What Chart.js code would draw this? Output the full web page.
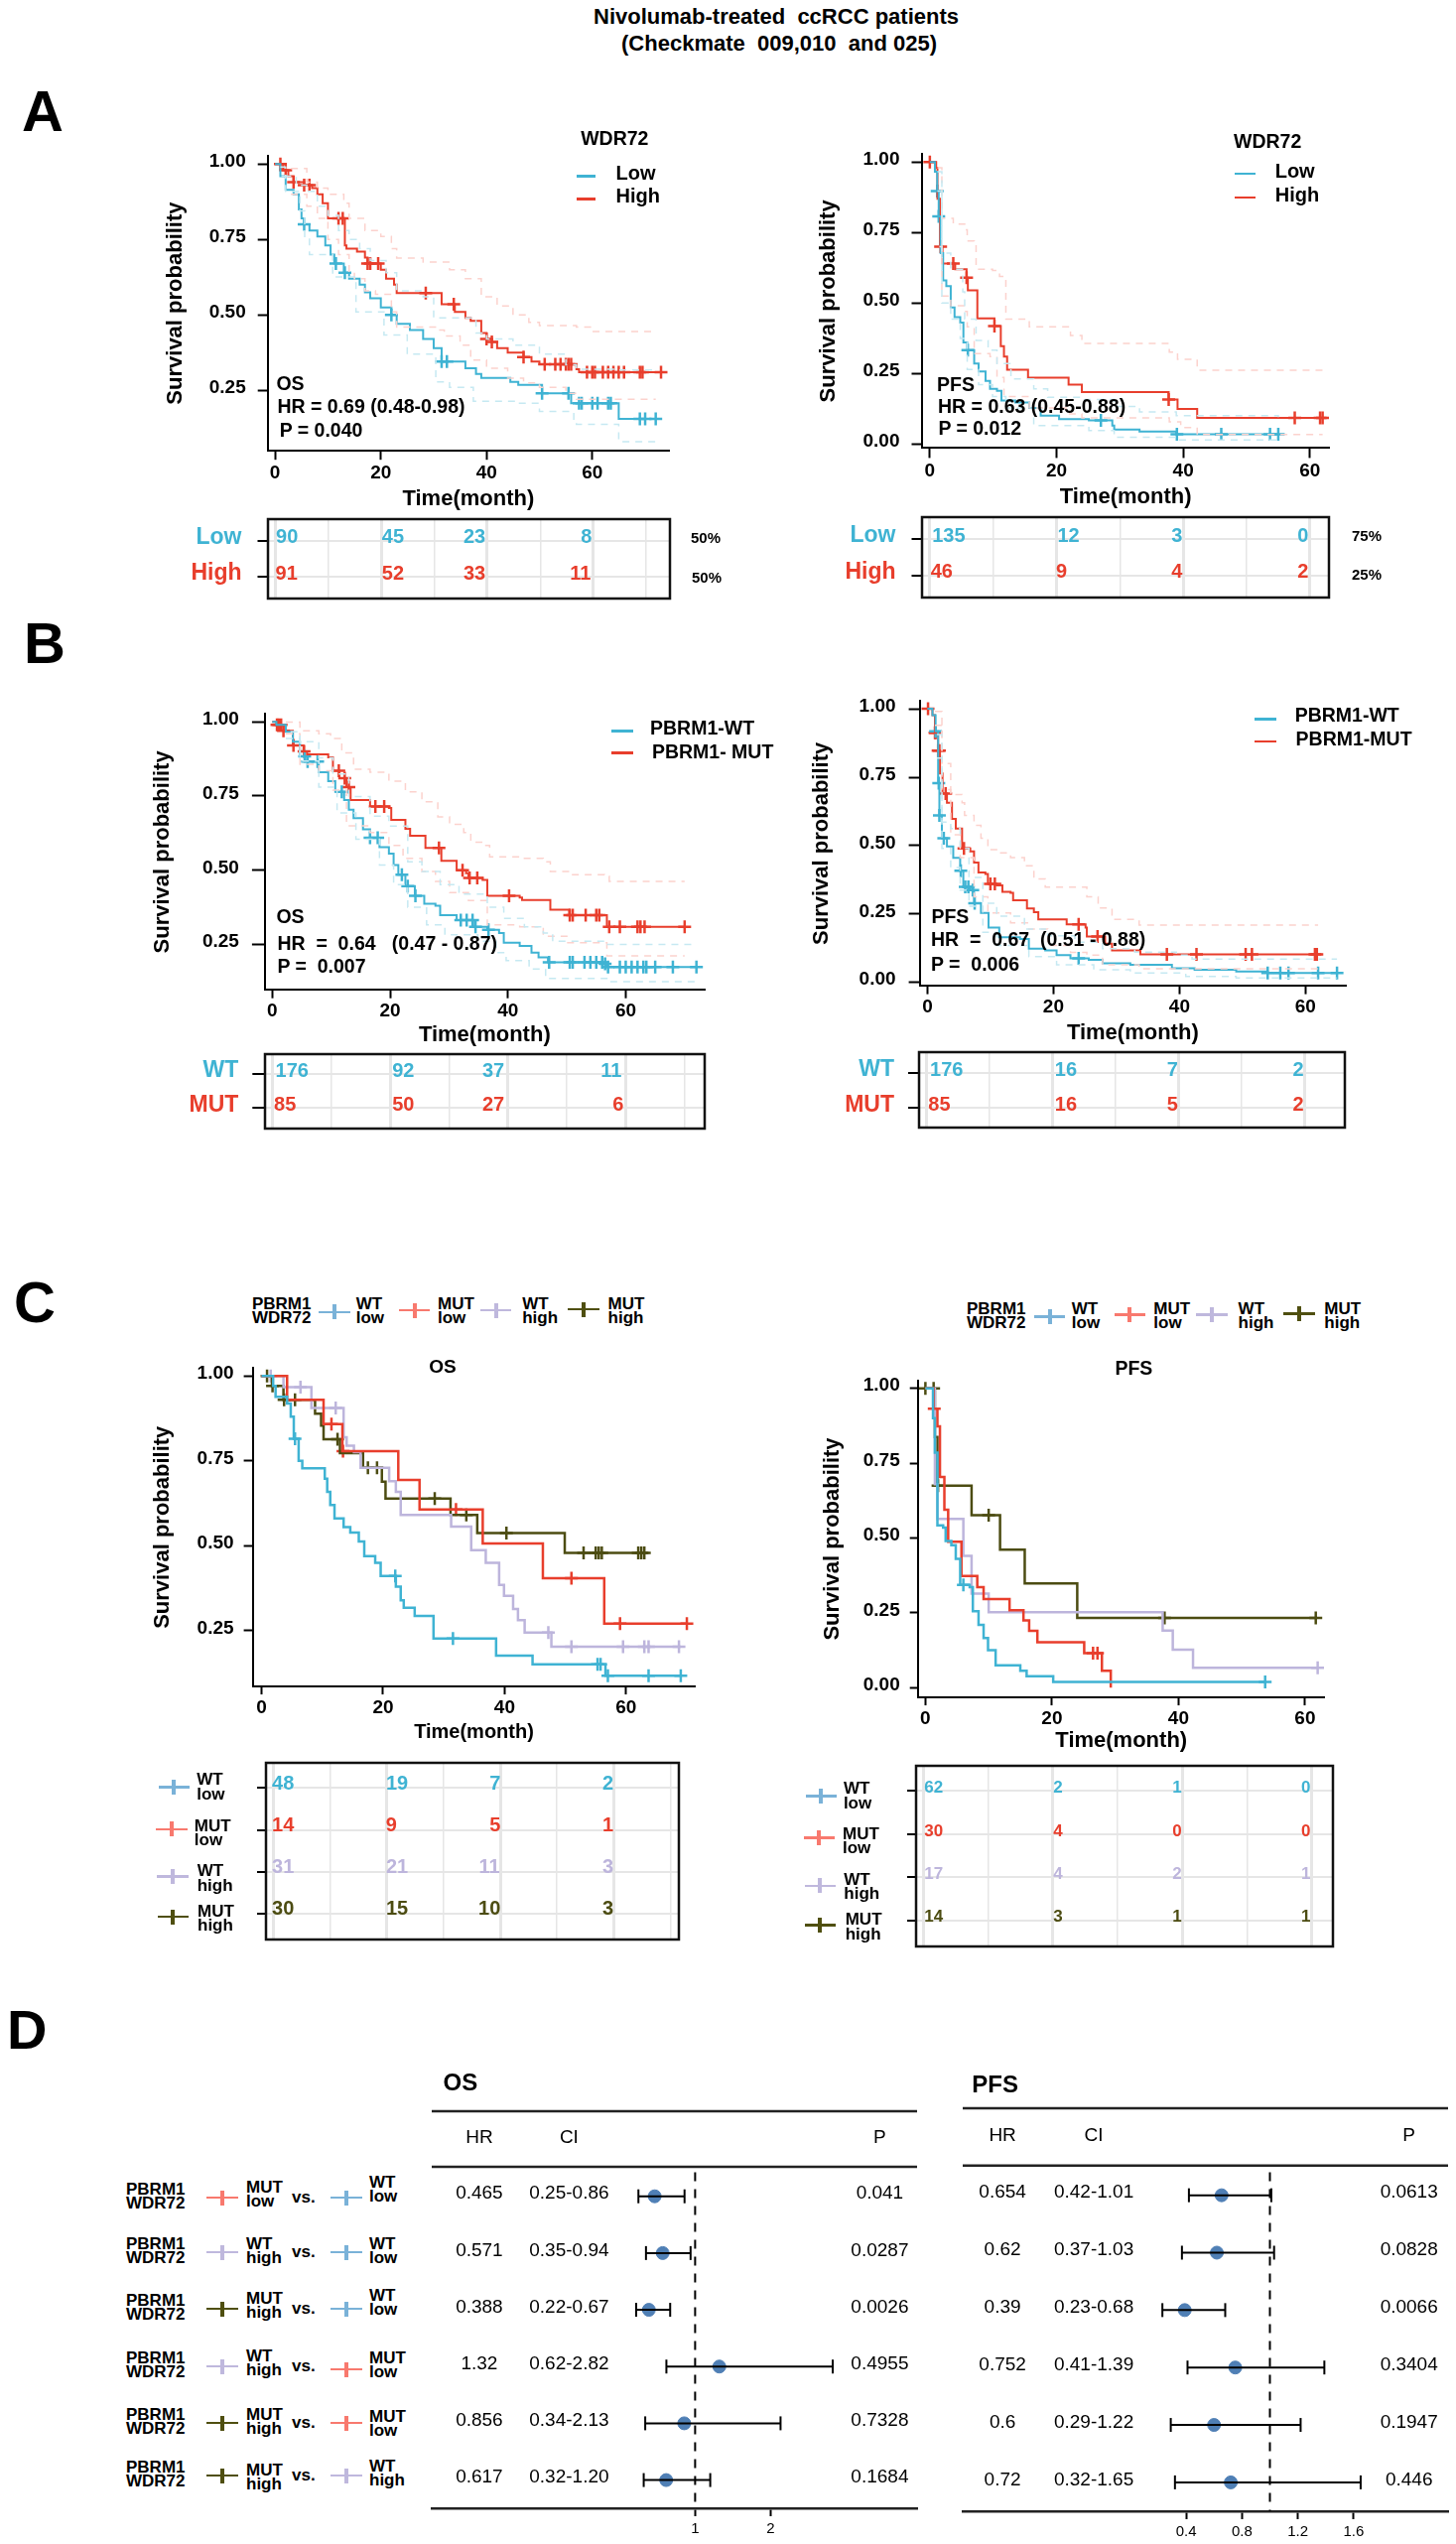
<!DOCTYPE html>
<html>
<head>
<meta charset="utf-8">
<title>Nivolumab-treated ccRCC patients</title>
<script src="https://cdn.jsdelivr.net/npm/chart.js@4/dist/chart.umd.js"></script>
<style>
  html, body { margin: 0; background: #fff; }
  #page { position: relative; width: 1467px; height: 2563px; overflow: hidden; font-family: "Liberation Sans", Arial, sans-serif; }
  #page canvas { position: absolute; }
  .t { position: absolute; white-space: pre; line-height: 1; color: #000; }
  .g { position: absolute; }
</style>
</head>
<body>
<div id="page"></div>
<script>
// ---- data: [month, survival] ----
const timeTicks = [0, 20, 40, 60];
const riskGrid70 = [0, 10, 20, 30, 40, 50, 60, 70];
const riskGrid60 = [0, 10, 20, 30, 40, 50, 60];
const osTicks = [0.25, 0.5, 0.75, 1];
const pfsTicks = [0, 0.25, 0.5, 0.75, 1];

// A, OS
const aOsLow = [[0,1],[1,.96],[2,.915],[3.5,.9],[4.5,.85],[5,.82],[5.5,.8],[6.5,.78],[8,.76],[9.5,.73],[10.5,.7],[11.2,.67],[13,.64],[14,.62],[16,.6],[17,.575],[18,.555],[20,.525],[22,.5],[23,.47],[25.5,.45],[28,.42],[30,.39],[31.5,.345],[36,.323],[38,.304],[39,.291],[44.5,.278],[46,.268],[50.5,.24],[56,.207],[65,.155],[73,.155]];
const aOsHigh = [[0,1],[1.5,.98],[2.5,.96],[3.5,.94],[5.5,.93],[7,.92],[8,.9],[9,.87],[10,.82],[13.2,.73],[13.5,.72],[15.5,.71],[17,.69],[17.5,.67],[20,.65],[21,.62],[22.5,.6],[23,.572],[31.5,.535],[34,.51],[36,.49],[37,.48],[39,.44],[40,.42],[41,.41],[42,.39],[44,.375],[47,.36],[48.5,.345],[50,.336],[57,.32],[57.5,.31],[74,.31]];
const aOsLowUp = [[1,.99],[2,.96],[4,.93],[6,.91],[8,.86],[10,.83],[12,.78],[14,.75],[16,.72],[18,.68],[21,.64],[23,.58],[28,.56],[30,.49],[38,.44],[40,.42],[45,.4],[50,.37],[55,.335],[57,.32],[65,.317],[72,.317]];
const aOsLowDn = [[1.2,.96],[2,.91],[4.7,.845],[5.6,.755],[6.5,.7],[10.9,.626],[15.3,.51],[20.6,.433],[25,.37],[30.4,.278],[33,.26],[37.5,.214],[45.4,.207],[50,.18],[56.5,.15],[57,.137],[65,.08],[72,.08]];
const aOsHighUp = [[3,.985],[6,.94],[8,.92],[10,.9],[13,.87],[14,.82],[17,.78],[20,.76],[22,.72],[23,.688],[28,.675],[33,.65],[36,.62],[39,.56],[42,.53],[45,.5],[48,.475],[50,.465],[57,.46],[60,.445],[72,.445]];
const aOsHighDn = [[3,.9],[6,.86],[8,.82],[10,.75],[12,.7],[14,.64],[15,.62],[17,.58],[19,.568],[22,.51],[23,.46],[31,.45],[32,.43],[35,.4],[37,.35],[40,.323],[44,.29],[47,.275],[50,.26],[55,.24],[57,.22],[72,.22]];
const aOsLowCens = [5.5,11.5,13.2,22,31.5,32.5,50.5,55.5,57.5,58,60,61,63,63.5,69,70,72];
const aOsHighCens = [1,2,3.5,5.5,6.5,12,12.8,17.5,18,19.5,28.5,33.8,40,41,47,51,53,54,55,55.5,56,59,60,60.5,62,63,64,65,66,69,69.5,73];
const aOsRiskLow = [90,45,23,8];
const aOsRiskHigh = [91,52,33,11];

// A, PFS
const aPfsLow = [[0,1],[.8,.966],[1.16,.897],[1.4,.807],[1.7,.677],[2.1,.58],[2.6,.56],[3.3,.484],[3.9,.45],[4.8,.43],[5.3,.36],[5.9,.333],[7,.285],[7.7,.257],[8.8,.223],[9.5,.195],[10.6,.188],[11.3,.154],[13.5,.147],[15.7,.127],[17.5,.1],[20.4,.088],[25.1,.083],[28.8,.065],[29.1,.051],[33.1,.044],[38.9,.034],[55,.034]];
const aPfsHigh = [[0,1],[1,.98],[1.2,.87],[1.6,.7],[2,.64],[4,.62],[5.8,.59],[6,.545],[7.5,.445],[10.2,.418],[11.2,.347],[11.7,.31],[12.2,.263],[15.5,.235],[21.9,.21],[24,.184],[37.7,.157],[39.1,.124],[42.2,.092],[62,.092]];
const aPfsLowUp = [[1.2,.966],[1.9,.677],[3.3,.62],[5.2,.54],[5.5,.443],[7.3,.367],[9.2,.333],[10.6,.285],[12.8,.23],[16.4,.195],[18.6,.165],[24.4,.157],[29.1,.133],[33.1,.113],[38.9,.1],[55,.095]];
const aPfsLowDn = [[1.2,.897],[1.9,.5],[3.3,.443],[4.8,.374],[5.9,.264],[7.7,.21],[9.9,.168],[12,.127],[16.4,.065],[25.1,.047],[29.1,.023],[38.9,.014],[55,.014]];
const aPfsHighUp = [[1.2,.98],[1.9,.8],[3.7,.78],[5.5,.76],[5.9,.72],[7,.705],[7.3,.62],[9.9,.615],[11,.594],[12,.443],[15.7,.415],[22.2,.385],[24,.356],[37.8,.326],[39.1,.3],[42.2,.261],[62,.261]];
const aPfsHighDn = [[1.5,.7],[1.9,.525],[3.3,.49],[5.5,.47],[5.9,.415],[7,.32],[9.5,.31],[10.6,.236],[11.7,.168],[15.7,.127],[21.5,.106],[24,.092],[37.8,.078],[39.6,.058],[42.2,.033],[62,.033]];
const aPfsLowCens = [1.16,1.4,6,27,39,46,53.7,55];
const aPfsHighCens = [0,1.7,3.7,5.8,10.2,37.7,57.6,61.6,62];
const aPfsRiskLow = [135,12,3,0];
const aPfsRiskHigh = [46,9,4,2];

// B, OS
const bOsWt = [[0,1],[.7,.99],[2.3,.966],[3.5,.933],[4.7,.884],[5.9,.866],[7.9,.83],[9.5,.8],[10.7,.764],[12.2,.737],[13,.704],[13.8,.676],[15.4,.638],[16.6,.61],[18.2,.578],[19.8,.556],[20.6,.518],[21.4,.485],[22.6,.447],[24.2,.414],[25.8,.387],[27.7,.381],[28.5,.349],[31.3,.332],[34.1,.31],[36.5,.3],[38.5,.289],[39.3,.256],[42,.245],[44,.223],[45.2,.207],[46.8,.19],[56.4,.185],[56.8,.174],[72,.174]];
const bOsMut = [[0,1],[.7,.99],[1.9,.97],[3.5,.92],[5.3,.9],[5.9,.89],[8.7,.89],[9.5,.88],[10.3,.835],[11.4,.81],[12.6,.78],[13.3,.737],[16.6,.715],[19.8,.71],[20.2,.67],[22.6,.64],[23.4,.616],[26,.575],[28.7,.532],[31.3,.5],[32.9,.49],[33.3,.474],[35.7,.468],[36.5,.414],[42,.408],[42.4,.4],[47.2,.367],[50.4,.349],[56.8,.31],[70,.31]];
const bOsWtUp = [[3.1,.966],[4.7,.933],[7.9,.879],[10.3,.824],[13,.748],[16.6,.682],[19.8,.649],[23,.529],[25.4,.496],[28.5,.452],[31.7,.42],[36.5,.376],[39.3,.338],[42.8,.31],[46,.289],[47.6,.261],[56.4,.25],[72,.25]];
const bOsWtDn = [[2.3,.944],[4.7,.868],[7.9,.78],[11,.693],[14.2,.605],[18.2,.518],[20.6,.452],[23,.376],[26.2,.316],[29.3,.283],[34.9,.261],[38,.223],[39.7,.196],[43.6,.168],[46.4,.136],[57.2,.125],[72,.125]];
const bOsMutUp = [[2.3,.999],[4.7,.97],[7.9,.96],[9.9,.944],[11.8,.895],[13.8,.84],[16.6,.83],[19.8,.8],[22.6,.764],[25.4,.731],[28.1,.68],[30.1,.655],[32.5,.627],[33.7,.595],[36.1,.584],[36.9,.545],[42,.54],[46,.529],[47.2,.496],[50.4,.485],[56.4,.48],[57.2,.463],[70,.463]];
const bOsMutDn = [[2.3,.96],[4.7,.857],[7.9,.835],[10.3,.77],[12.6,.65],[16.6,.627],[19.8,.584],[22.2,.54],[25.4,.496],[27.7,.463],[30.1,.425],[33.3,.398],[36.5,.316],[42,.31],[46,.278],[50,.256],[56.8,.212],[70,.212]];
const bOsWtCens = [5.5,6,7.7,11.8,16.6,17.9,22,23,24.3,32,33,34,34.5,36.7,47,50.5,51,53,54,55,56,56.5,57,59,60,61,62,63,63.5,65,68,72];
const bOsMutCens = [.8,1.1,1.5,1.9,3.6,5.4,11.3,12.3,13,17.5,19,28.3,32.3,33.5,34.8,40.2,50.5,51,53.2,55,55.5,57.2,59,62,62.5,63.2,70];
const bOsRiskWt = [176,92,37,11];
const bOsRiskMut = [85,50,27,6];

// B, PFS
const bPfsWt = [[0,1],[.8,.977],[1.3,.918],[1.7,.728],[1.9,.61],[2.3,.527],[3.1,.497],[4.1,.455],[5.2,.408],[5.7,.349],[6.8,.337],[7.4,.289],[8.5,.254],[9.7,.2],[11.4,.165],[14.7,.159],[16.1,.123],[18.7,.117],[20.5,.1],[22.7,.088],[25.6,.082],[27.8,.07],[32.2,.064],[38.8,.052],[42.4,.046],[49,.04],[54,.034],[65,.034]];
const bPfsMut = [[0,1],[.8,.977],[1.2,.912],[1.7,.847],[2,.764],[2.4,.69],[3.1,.657],[3.9,.598],[4.5,.562],[5.5,.49],[6.8,.479],[7.4,.438],[8.1,.402],[9.2,.396],[9.6,.36],[11,.355],[11.9,.331],[13.2,.327],[13.6,.3],[15.8,.27],[16.9,.257],[17.6,.23],[22.1,.212],[25.1,.2],[25.3,.168],[28.2,.141],[29.3,.117],[33.8,.102],[62,.102]];
const bPfsWtUp = [[1.5,.906],[2.3,.586],[3.7,.562],[5.2,.49],[6.6,.384],[8.8,.289],[11,.242],[15.4,.195],[19.1,.17],[23.4,.147],[27.8,.123],[32.9,.111],[39.5,.1],[42,.085],[65,.085]];
const bPfsWtDn = [[1.5,.82],[2.3,.49],[3.7,.42],[5.2,.337],[6.6,.278],[8.8,.183],[11,.135],[16.1,.094],[20.5,.064],[26.4,.046],[32.2,.034],[41,.022],[49,.016],[65,.016]];
const bPfsMutUp = [[1.2,.99],[2.3,.8],[3.7,.687],[5.5,.657],[5.9,.61],[7.4,.574],[8.5,.527],[9.6,.485],[11.4,.473],[13.2,.456],[15.4,.426],[16.9,.378],[18.7,.348],[25.3,.313],[27.1,.272],[29.3,.23],[33.6,.209],[62,.209]];
const bPfsMutDn = [[1.2,.94],[2.3,.705],[3.7,.54],[5.2,.456],[7.4,.313],[9.6,.254],[13.2,.218],[16.1,.195],[19.1,.135],[22.7,.11],[25.3,.1],[27.8,.064],[33.6,.05],[62,.05]];
const bPfsWtCens = [1.3,1.8,1.9,2.6,5.3,6,6.5,7.2,7.5,24,54,56,57.3,62,65];
const bPfsMutCens = [.1,1.2,1.3,1.7,1.9,2.9,5.8,10,10.7,24,27,38,42.7,50.5,51.5,61.5,61.8];
const bPfsRiskWt = [176,16,7,2];
const bPfsRiskMut = [85,16,5,2];

// C, OS
const cOsWtLow = [[0,1],[.9,1],[1.9,.971],[2.3,.939],[4.2,.919],[4.8,.88],[5.3,.815],[6.1,.75],[6.7,.728],[10.4,.698],[10.8,.659],[11.3,.62],[12,.581],[13.5,.555],[14.6,.539],[16,.513],[16.9,.47],[18.7,.45],[19.6,.411],[22.1,.38],[22.9,.34],[23.4,.318],[25.2,.294],[28.3,.227],[38.6,.177],[44.6,.151],[56.6,.118],[69,.118]];
const cOsMutLow = [[0,1],[4.2,.93],[10.2,.858],[13.3,.779],[22.5,.694],[26,.607],[36.4,.507],[46.3,.405],[56.4,.271],[70,.271]];
const cOsWtHigh = [[0,1],[3.2,1],[3.6,.967],[8.2,.906],[13.5,.82],[14,.795],[15.2,.776],[16.3,.73],[21,.69],[22.1,.659],[22.9,.591],[31.2,.557],[34.5,.487],[36.9,.45],[39.1,.385],[39.9,.353],[41.4,.314],[42.2,.281],[43.3,.245],[47.7,.203],[69,.203]];
const cOsMutHigh = [[0,1],[1.7,.971],[3.6,.93],[8.8,.889],[9.8,.854],[10.2,.814],[12.9,.773],[16.7,.73],[19.8,.689],[20.4,.639],[31.1,.591],[35.5,.538],[49.9,.479],[63.7,.479]];
const cOsWtLowCens = [5.5,22,31.5,55.3,55.8,57,63.7,69];
const cOsMutLowCens = [11.5,13.4,32,51,59,70];
const cOsWtHighCens = [1.5,6.4,12.2,47.2,51,59.5,63,63.7,68.7];
const cOsMutHighCens = [.9,1.8,3.7,5.5,12.5,17.5,19,28.5,33.7,40.3,53,55,55.5,56,62,62.5,63];
const cOsRisk = [[48,19,7,2],[14,9,5,1],[31,21,11,3],[30,15,10,3]];

// C, PFS
const cPfsWtLow = [[0,1],[.8,1],[1.2,.9],[1.5,.785],[1.9,.542],[2.8,.535],[3.2,.49],[4.1,.476],[4.8,.43],[5.5,.343],[7,.336],[7.5,.255],[8.4,.21],[9.2,.166],[9.9,.125],[11.1,.075],[15,.056],[16,.038],[20.2,.019],[53.8,.019]];
const cPfsMutLow = [[0,1],[1.3,.932],[1.9,.873],[2.3,.704],[3,.594],[3.6,.487],[5.7,.373],[8.2,.336],[9.2,.296],[13.3,.259],[15.5,.225],[16.4,.19],[17.7,.152],[25.1,.115],[27.9,.056],[29.3,0]];
const cPfsWtHigh = [[0,1],[1.2,1],[1.5,.68],[1.9,.564],[6,.44],[7.3,.314],[10,.252],[37.5,.191],[39.1,.127],[42.3,.066],[62,.066]];
const cPfsMutHigh = [[0,1],[1.3,1],[1.5,.837],[1.9,.675],[7.3,.576],[11.8,.461],[15.7,.348],[24,.233],[61.7,.233]];
const cPfsWtLowCens = [6,53.7];
const cPfsMutLowCens = [1.4,26.5,27.2];
const cPfsWtHighCens = [62];
const cPfsMutHighCens = [0,1.3,2,10,37.8,61.7];
const cPfsRisk = [[62,2,1,0],[30,4,0,0],[17,4,2,1],[14,3,1,1]];

// D, forest tables
const forestLeft = ['MUT low','WT high','MUT high','WT high','MUT high','MUT high'];
const forestRight = ['WT low','WT low','WT low','MUT low','MUT low','WT high'];
const osHR = [0.465,0.571,0.388,1.32,0.856,0.617];
const osLo = [0.25,0.35,0.22,0.62,0.34,0.32];
const osHi = [0.86,0.94,0.67,2.82,2.13,1.20];
const osP = ['0.041','0.0287','0.0026','0.4955','0.7328','0.1684'];
const pfsHR = [0.654,0.62,0.39,0.752,0.6,0.72];
const pfsLo = [0.42,0.37,0.23,0.41,0.29,0.32];
const pfsHi = [1.01,1.03,0.68,1.39,1.22,1.65];
const pfsP = ['0.0613','0.0828','0.0066','0.3404','0.1947','0.446'];
const forestTicksOs = [1,2];
const forestTicksPfs = [0.4,0.8,1.2,1.6];

// ---- colours ----
const BLUE = '#3fb3d3', RED = '#e83e2c', LAV = '#bdb5dc', OLIVE = '#4c4c12';
const BLUE_CI = '#c6e9f2', RED_CI = '#fcd2cd';
const glyphColor = { 'WT low': '#7ab2d8', 'MUT low': '#f8796e', 'WT high': '#bfb8dd', 'MUT high': '#4f4f10' };
const FONT = '"Liberation Sans", Arial, sans-serif';

Chart.defaults.font.family = FONT;
Chart.defaults.color = '#000';
Chart.defaults.animation = false;
Chart.defaults.responsive = false;

const page = document.getElementById('page');

function addCanvas(left, top, width, height) {
    const c = document.createElement('canvas');
    c.width = Math.round(width);
    c.height = Math.round(height);
    c.style.left = left + 'px';
    c.style.top = top + 'px';
    page.appendChild(c);
    return c;
}

function txt(str, x, cy, size, opts = {}) {
    const d = document.createElement('div');
    d.className = 't';
    d.textContent = str;
    d.style.left = x + 'px';
    d.style.top = cy + 'px';
    d.style.fontSize = size + 'px';
    d.style.fontWeight = opts.normal ? 'normal' : 'bold';
    if (opts.color) d.style.color = opts.color;
    if (opts.spacing) d.style.wordSpacing = opts.spacing + 'px';
    const tx = opts.center ? '-50%' : '0';
    d.style.transform = `translate(${tx}, -50%)`;
    page.appendChild(d);
}

function box(x, y, w, h, color) {
    const d = document.createElement('div');
    d.className = 'g';
    d.style.cssText += `left:${x}px;top:${y}px;width:${w}px;height:${h}px;background:${color}`;
    page.appendChild(d);
}

// legend sample: a line, with the censor tick when cross is set
function glyph(x1, x2, y, color, cross = true) {
    box(x1, y - 1.25, x2 - x1, 2.5, color);
    if (cross) {
        const m = (x1 + x2) / 2;
        box(m - 2, y - 7.5, 4, 15, color);
    }
}

function stepAt(curve, t) {
    let s = curve[0][1];
    for (const p of curve) { if (p[0] <= t) s = p[1]; }
    return s;
}

const toXY = pts => pts.map(p => ({ x: p[0], y: p[1] }));

// one Kaplan-Meier plot
function kmChart(p) {
    const [l, t, r, b] = p.plot;
    const titleSize = p.titleSize || 22;
    const W = l - p.titleX + titleSize * 0.6;
    const H = p.titleY - b + titleSize * 0.6;
    const padT = 20, padR = 24;
    const canvas = addCanvas(l - W, t - padT, W + (r - l) + padR, padT + (b - t) + H);
    const datasets = [];
    p.curves.forEach(c => {
        [c.up, c.dn].forEach(ci => {
            if (!ci) return;
            datasets.push({ data: toXY(ci), showLine: true, stepped: true, borderColor: c.ci, borderWidth: 1.5, borderDash: [7, 6], pointRadius: 0 });
        });
    });
    p.curves.forEach(c => {
        datasets.push({ data: toXY(c.pts), showLine: true, stepped: true, borderColor: c.color, borderWidth: p.lineWidth || 2, pointRadius: 0 });
    });
    p.curves.forEach(c => {
        datasets.push({
            data: c.cens.map(x => ({ x, y: stepAt(c.pts, x) })),
            showLine: false, pointStyle: 'cross', pointRadius: 6.5, pointBorderWidth: 2.5,
            pointBorderColor: c.color, pointBackgroundColor: c.color
        });
    });
    new Chart(canvas, {
        type: 'scatter',
        data: { datasets },
        options: {
            layout: { padding: { top: padT, right: padR, left: 0, bottom: 0 } },
            plugins: { legend: { display: false }, tooltip: { enabled: false } },
            scales: {
                x: {
                    type: 'linear', min: p.x[0], max: p.x[1],
                    afterBuildTicks: s => { s.ticks = timeTicks.map(value => ({ value })); },
                    afterFit: s => { s.height = H; },
                    ticks: { font: { size: 19, weight: 'bold' }, padding: 2, maxRotation: 0, callback: v => String(v) },
                    grid: { drawOnChartArea: false, tickLength: p.xTick, tickColor: '#000', tickWidth: 2 },
                    border: { color: '#000', width: 2 },
                    title: { display: true, text: 'Time(month)', font: { size: titleSize, weight: 'bold' }, padding: 0, color: '#000' }
                },
                y: {
                    type: 'linear', min: p.y[0], max: p.y[1],
                    afterBuildTicks: s => { s.ticks = p.yTicks.map(value => ({ value })); },
                    afterFit: s => { s.width = W; },
                    ticks: { font: { size: 19, weight: 'bold' }, padding: p.yPad, labelOffset: -2.5, callback: v => v.toFixed(2) },
                    grid: { drawOnChartArea: false, tickLength: p.yTick, tickColor: '#000', tickWidth: 2 },
                    border: { color: '#000', width: 2 },
                    title: { display: true, text: 'Survival probability', font: { size: 22, weight: 'bold' }, padding: 0, color: '#000' }
                }
            }
        }
    });
}

// number-at-risk table under each plot
function riskChart(p) {
    const [l, t, r, b] = p.plot;
    const W = 130, pad = 30;
    const canvas = addCanvas(l - W, t - pad, W + (r - l) + pad, (b - t) + 2 * pad);
    const size = p.size || 20;
    new Chart(canvas, {
        type: 'scatter',
        data: { datasets: [] },
        plugins: [{
            id: 'riskCounts',
            afterDraw(chart) {
                const { ctx, chartArea: a, scales } = chart;
                ctx.save();
                ctx.font = `bold ${size}px ${FONT}`;
                ctx.textAlign = 'center';
                ctx.textBaseline = 'middle';
                p.counts.forEach((row, i) => {
                    ctx.fillStyle = p.colors[i];
                    row.forEach((n, j) => {
                        ctx.fillText(String(n), scales.x.getPixelForValue(p.pos[i][j]), scales.y.getPixelForValue(i + 1) + (p.dy === undefined ? -3 : p.dy));
                    });
                });
                ctx.strokeStyle = '#111';
                ctx.lineWidth = 2.5;
                ctx.strokeRect(a.left, a.top, a.width, a.height);
                ctx.restore();
            }
        }],
        options: {
            layout: { padding: { top: pad, right: pad, left: 0, bottom: pad } },
            plugins: { legend: { display: false }, tooltip: { enabled: false } },
            scales: {
                x: {
                    type: 'linear', min: p.x[0], max: p.x[1],
                    afterBuildTicks: s => { s.ticks = p.grid.map(value => ({ value })); },
                    afterFit: s => { s.height = 0; },
                    ticks: { display: false },
                    grid: { color: '#e6e6e6', lineWidth: c => (c.tick.value % 20 === 0 ? 3 : 1.5), drawTicks: false },
                    border: { display: false }
                },
                y: {
                    type: 'linear', reverse: true, min: p.y[0], max: p.y[1],
                    afterBuildTicks: s => { s.ticks = p.counts.map((_, i) => ({ value: i + 1 })); },
                    afterFit: s => { s.width = W; },
                    ticks: {
                        display: true,
                        font: { size: 23, weight: 'bold' }, padding: p.tickPad || 16, labelOffset: -3,
                        color: c => (p.labels ? p.colors[c.index] : 'rgba(0,0,0,0)'),
                        callback: (v, i) => (p.labels ? p.labels[i] : '')
                    },
                    grid: { color: '#e6e6e6', lineWidth: 2, tickLength: p.tick || 10.5, tickColor: '#000', tickWidth: 2 },
                    border: { display: false }
                }
            }
        }
    });
}

// forest plot with its HR / CI / P columns
function forestChart(p) {
    const [l, t, r, b] = p.plot;
    const pad = 24, H = 36;
    const canvasLeft = l - pad, canvasTop = t - pad;
    const canvas = addCanvas(canvasLeft, canvasTop, (r - l) + 2 * pad, (b - t) + pad + H);
    const datasets = [{
        data: [{ x: 1, y: p.dashFrom }, { x: 1, y: p.y[1] }], showLine: true,
        borderColor: '#000', borderWidth: 2, borderDash: [9, 8], pointRadius: 0
    }];
    p.hr.forEach((v, i) => {
        datasets.push({
            data: [{ x: p.lo[i], y: i + 1 }, { x: p.hi[i], y: i + 1 }], showLine: true,
            borderColor: '#000', borderWidth: 2, pointStyle: 'line', pointRotation: 90, pointRadius: 7,
            pointBorderColor: '#000', pointBorderWidth: 2
        });
    });
    datasets.push({
        data: p.hr.map((v, i) => ({ x: v, y: i + 1 })), showLine: false,
        pointStyle: 'circle', pointRadius: 6.5, pointBackgroundColor: '#4f7fb5', pointBorderColor: '#4f7fb5'
    });
    new Chart(canvas, {
        type: 'scatter',
        data: { datasets },
        plugins: [{
            id: 'forestColumns',
            afterDraw(chart) {
                const { ctx, chartArea: a, scales } = chart;
                ctx.save();
                ctx.strokeStyle = '#222';
                ctx.lineWidth = 2.5;
                [a.top, p.rule2 - canvasTop].forEach(y => {
                    ctx.beginPath(); ctx.moveTo(a.left, y); ctx.lineTo(a.right, y); ctx.stroke();
                });
                ctx.fillStyle = '#000';
                ctx.font = `19px ${FONT}`;
                ctx.textAlign = 'center';
                ctx.textBaseline = 'middle';
                const cx = p.cols.map(c => c - canvasLeft);
                ['HR', 'CI', 'P'].forEach((h, i) => ctx.fillText(h, cx[i], p.headY - canvasTop));
                p.hr.forEach((v, i) => {
                    const y = scales.y.getPixelForValue(i + 1) - 2.5;
                    ctx.fillText(String(v), cx[0], y);
                    ctx.fillText(p.lo[i].toFixed(2) + '-' + p.hi[i].toFixed(2), cx[1], y);
                    ctx.fillText(p.p[i], cx[2], y);
                });
                ctx.restore();
            }
        }],
        options: {
            clip: false,
            layout: { padding: { top: pad, right: pad, left: pad, bottom: 0 } },
            plugins: { legend: { display: false }, tooltip: { enabled: false } },
            scales: {
                x: {
                    type: 'linear', min: p.x[0], max: p.x[1],
                    afterBuildTicks: s => { s.ticks = p.ticks.map(value => ({ value })); },
                    afterFit: s => { s.height = H; },
                    ticks: { font: { size: 15 }, padding: 4, maxRotation: 0, callback: v => String(v) },
                    grid: { drawOnChartArea: false, tickLength: 8, tickColor: '#000', tickWidth: 2 },
                    border: { color: '#222', width: 2.5 }
                },
                y: { type: 'linear', reverse: true, min: p.y[0], max: p.y[1], display: false }
            }
        }
    });
}

// ---- panel A ----
kmChart({
    plot: [269.5, 154.2, 674, 453.9], x: [-1.4, 74.5], y: [0.051, 1.026], yTicks: osTicks,
    titleX: 177, titleY: 503, xTick: 9.5, yTick: 10, yPad: 12,
    curves: [
        { pts: aOsLow, up: aOsLowUp, dn: aOsLowDn, cens: aOsLowCens, color: BLUE, ci: BLUE_CI },
        { pts: aOsHigh, up: aOsHighUp, dn: aOsHighDn, cens: aOsHighCens, color: RED, ci: RED_CI }
    ]
});
kmChart({
    plot: [929, 152.2, 1339, 452], x: [-1.2, 63], y: [-0.015, 1.028], yTicks: pfsTicks,
    titleX: 835, titleY: 501.4, xTick: 10, yTick: 10.7, yPad: 12,
    curves: [
        { pts: aPfsLow, up: aPfsLowUp, dn: aPfsLowDn, cens: aPfsLowCens, color: BLUE, ci: BLUE_CI },
        { pts: aPfsHigh, up: aPfsHighUp, dn: aPfsHighDn, cens: aPfsHighCens, color: RED, ci: RED_CI }
    ]
});
riskChart({
    plot: [269.5, 522.7, 674, 603], x: [-1.4, 74.5], y: [0.4, 2.607], grid: riskGrid70,
    counts: [aOsRiskLow, aOsRiskHigh], labels: ['Low', 'High'], colors: [BLUE, RED],
    pos: [[2.2, 22.2, 37.6, 58.7], [2.1, 22.2, 37.6, 57.6]]
});
riskChart({
    plot: [929, 521.2, 1339, 601.8], x: [-1.2, 63], y: [0.4, 2.607], grid: riskGrid60,
    counts: [aPfsRiskLow, aPfsRiskHigh], labels: ['Low', 'High'], colors: [BLUE, RED],
    pos: [[3, 21.9, 39, 58.9], [1.9, 20.8, 39, 58.9]]
});

// ---- panel B ----
kmChart({
    plot: [266.6, 714.5, 710, 996.5], x: [-1.3, 73.4], y: [0.097, 1.026], yTicks: osTicks,
    titleX: 164.2, titleY: 1041.9, xTick: 8.3, yTick: 12.7, yPad: 13,
    curves: [
        { pts: bOsWt, up: bOsWtUp, dn: bOsWtDn, cens: bOsWtCens, color: BLUE, ci: BLUE_CI },
        { pts: bOsMut, up: bOsMutUp, dn: bOsMutDn, cens: bOsMutCens, color: RED, ci: RED_CI }
    ]
});
kmChart({
    plot: [926.4, 701.9, 1355.7, 993.1], x: [-1.23, 66.4], y: [-0.013, 1.028], yTicks: pfsTicks,
    titleX: 828, titleY: 1040.6, xTick: 8.3, yTick: 11, yPad: 13,
    curves: [
        { pts: bPfsWt, up: bPfsWtUp, dn: bPfsWtDn, cens: bPfsWtCens, color: BLUE, ci: BLUE_CI },
        { pts: bPfsMut, up: bPfsMutUp, dn: bPfsMutDn, cens: bPfsMutCens, color: RED, ci: RED_CI }
    ]
});
riskChart({
    plot: [266.6, 1061.8, 710, 1136.4], x: [-1.3, 73.4], y: [0.418, 2.6], grid: riskGrid70,
    counts: [bOsRiskWt, bOsRiskMut], labels: ['WT', 'MUT'], colors: [BLUE, RED], tick: 12.7, tickPad: 14,
    pos: [[3.3, 22.2, 37.5, 57.5], [2.1, 22.2, 37.5, 58.7]]
});
riskChart({
    plot: [926.4, 1060, 1355.7, 1136.4], x: [-1.23, 66.4], y: [0.408, 2.55], grid: riskGrid60,
    counts: [bPfsRiskWt, bPfsRiskMut], labels: ['WT', 'MUT'], colors: [BLUE, RED], tick: 11, tickPad: 14,
    pos: [[3.15, 22.1, 39, 59], [2, 22.1, 39, 59]]
});

// ---- panel C ----
kmChart({
    plot: [254.8, 1377, 699.9, 1698.6], x: [-1.4, 71.3], y: [0.086, 1.023], yTicks: osTicks, lineWidth: 2.5, titleSize: 20,
    titleX: 162.8, titleY: 1744.5, xTick: 8, yTick: 9.4, yPad: 10,
    curves: [
        { pts: cOsWtLow, cens: cOsWtLowCens, color: BLUE },
        { pts: cOsMutLow, cens: cOsMutLowCens, color: RED },
        { pts: cOsWtHigh, cens: cOsWtHighCens, color: LAV },
        { pts: cOsMutHigh, cens: cOsMutHighCens, color: OLIVE }
    ]
});
kmChart({
    plot: [925, 1389.6, 1333.9, 1709.3], x: [-1.08, 63], y: [-0.031, 1.024], yTicks: pfsTicks, lineWidth: 2.5,
    titleX: 838.7, titleY: 1753.5, xTick: 8.5, yTick: 8.8, yPad: 10,
    curves: [
        { pts: cPfsWtLow, cens: cPfsWtLowCens, color: BLUE },
        { pts: cPfsMutLow, cens: cPfsMutLowCens, color: RED },
        { pts: cPfsWtHigh, cens: cPfsWtHighCens, color: LAV },
        { pts: cPfsMutHigh, cens: cPfsMutHighCens, color: OLIVE }
    ]
});
riskChart({
    plot: [267.6, 1775.8, 683.3, 1953.9], x: [-1.3, 71.5], y: [0.396, 4.614], grid: riskGrid70,
    counts: cOsRisk, colors: [BLUE, RED, LAV, OLIVE], tick: 9, dy: -4.2,
    pos: [[1.7, 21.8, 39.1, 59], [1.7, 20.8, 39.1, 59], [1.7, 21.8, 38.1, 59], [1.7, 21.8, 38.1, 59]]
});
riskChart({
    plot: [923.1, 1779, 1343.6, 1960.6], x: [-1.13, 63.3], y: [0.413, 4.607], grid: riskGrid60, size: 17,
    counts: cPfsRisk, colors: [BLUE, RED, LAV, OLIVE], tick: 9,
    pos: [[1.6, 20.8, 39.2, 59.1], [1.6, 20.8, 39.2, 59.1], [1.6, 20.8, 39.2, 59.1], [1.6, 20.8, 39.2, 59.1]]
});

// ---- panel D ----
forestChart({
    plot: [435.3, 2126.6, 924.5, 2526.2], x: [-2.484, 3.936], y: [-0.499, 6.497], ticks: forestTicksOs,
    hr: osHR, lo: osLo, hi: osHi, p: osP, cols: [483.2, 573.7, 886.7], headY: 2153.3, rule2: 2182.7, dashFrom: 0.576
});
forestChart({
    plot: [969.9, 2123.9, 1459, 2529.7], x: [-1.2, 2.276], y: [-0.515, 6.503], ticks: forestTicksPfs,
    hr: pfsHR, lo: pfsLo, hi: pfsHi, p: pfsP, cols: [1010, 1102, 1419.6], headY: 2151.6, rule2: 2181.7, dashFrom: 0.6
});

// ---- text and legends on top of the charts ----
txt('Nivolumab-treated  ccRCC patients', 782, 17, 22, { center: true });
txt('(Checkmate  009,010  and 025)', 785, 44, 22, { center: true });
txt('A', 22, 112, 58);
txt('B', 24, 648, 58);
txt('C', 14, 1312, 58);
txt('D', 7, 2045, 56);

// A
txt('WDR72', 585.2, 140.4, 19.5);
glyph(580.5, 600.3, 177.5, BLUE, false); txt('Low', 620.6, 174, 20);
glyph(580.5, 600.3, 200.5, RED, false); txt('High', 620.6, 197, 20);
txt('OS', 278.4, 386.7, 19.5);
txt('HR = 0.69 (0.48-0.98)', 279.4, 410.4, 19.5);
txt('P = 0.040', 281.7, 434.2, 19.5);
txt('50%', 696, 541, 15);
txt('50%', 697, 580.5, 15);

txt('WDR72', 1243, 143, 19.5);
glyph(1244, 1264.8, 175.2, BLUE, false); txt('Low', 1284.7, 172.4, 20);
glyph(1244, 1264.8, 198.9, RED, false); txt('High', 1284.7, 195.7, 20);
txt('PFS', 944, 387.5, 19.5);
txt('HR = 0.63 (0.45-0.88)', 945, 410, 19.5);
txt('P = 0.012', 945.4, 431.8, 19.5);
txt('75%', 1362, 538.5, 15);
txt('25%', 1362, 578, 15);

// B
glyph(615.9, 638.5, 736.7, BLUE, false); txt('PBRM1-WT', 655, 734.4, 19.5);
glyph(615.9, 638.5, 758.6, RED, false); txt('PBRM1- MUT', 656.9, 757.6, 19.5);
txt('OS', 278.4, 923.5, 19.5);
txt('HR  =  0.64   (0.47 - 0.87)', 279.4, 950.7, 19.5);
txt('P =  0.007', 279.4, 974.2, 19.5);

glyph(1263.9, 1286, 724.5, BLUE, false); txt('PBRM1-WT', 1304.7, 721.2, 19.5);
glyph(1263.9, 1286, 747, RED, false); txt('PBRM1-MUT', 1305.6, 745.4, 19.5);
txt('PFS', 938.4, 924, 19.5);
txt('HR  =  0.67  (0.51 - 0.88)', 938, 946.7, 19.5);
txt('P =  0.006', 938, 971.6, 19.5);

// C headers
function two(a, b, x, cy1, cy2, size = 17) {
    txt(a, x, cy1, size);
    txt(b, x, cy2, size);
}
two('PBRM1', 'WDR72', 253.9, 1313.3, 1327);
glyph(321, 352.5, 1321.8, glyphColor['WT low']); two('WT', 'low', 358.7, 1313.3, 1327);
glyph(402, 433, 1320, glyphColor['MUT low']); two('MUT', 'low', 441, 1313.3, 1327);
glyph(483.7, 515.3, 1320, glyphColor['WT high']); two('WT', 'high', 526.2, 1313.3, 1327);
glyph(572, 604, 1319, glyphColor['MUT high']); two('MUT', 'high', 612.6, 1313.3, 1327);
txt('OS', 446, 1376.2, 19, { center: true });

two('PBRM1', 'WDR72', 974, 1317.8, 1332);
glyph(1042.3, 1072.9, 1326.3, glyphColor['WT low']); two('WT', 'low', 1079.8, 1317.8, 1332);
glyph(1122.5, 1154, 1324.5, glyphColor['MUT low']); two('MUT', 'low', 1162.3, 1317.8, 1332);
glyph(1205, 1236.5, 1324.5, glyphColor['WT high']); two('WT', 'high', 1247.6, 1317.8, 1332);
glyph(1293, 1325, 1323.6, glyphColor['MUT high']); two('MUT', 'high', 1334.3, 1317.8, 1332);
txt('PFS', 1142.4, 1378.5, 19.5, { center: true });

// C table row labels
glyph(159.5, 191, 1800.4, glyphColor['WT low']); two('WT', 'low', 198.2, 1792.3, 1806.6);
glyph(157, 188.8, 1842.8, glyphColor['MUT low']); two('MUT', 'low', 195.8, 1838.7, 1852.6);
glyph(158, 189.7, 1890.5, glyphColor['WT high']); two('WT', 'high', 198.7, 1884.3, 1898.6);
glyph(158.6, 190, 1931, glyphColor['MUT high']); two('MUT', 'high', 199, 1925.4, 1938.8);

glyph(811.9, 842.9, 1809.3, glyphColor['WT low']); two('WT', 'low', 849.9, 1801.3, 1815.5);
glyph(809.5, 841, 1851.3, glyphColor['MUT low']); two('MUT', 'low', 849, 1846.8, 1860.6);
glyph(810.5, 842, 1899.9, glyphColor['WT high']); two('WT', 'high', 850.3, 1892.8, 1907);
glyph(810.5, 842, 1939.6, glyphColor['MUT high']); two('MUT', 'high', 851.7, 1933.4, 1947.7);

// D row labels
txt('OS', 446.6, 2098, 24);
txt('PFS', 979.3, 2100.3, 24);
const forestY = [2212, 2267, 2324, 2382, 2439, 2492];        // row centre of the PBRM1/WDR72 pair + 4
const leftDy = [[-2, -2, 0], [0, 0, 0], [-2, 0, 0], [-2, 0, 0], [0, 0, 0], [3, 0, 0]];
const rightDy = [[-7, 0], [0, 0], [-5, 0], [0, 3], [2, 0], [-1, 0]];
forestLeft.forEach((g, i) => {
    const y = forestY[i];
    const [a, b] = g.split(' ');
    two('PBRM1', 'WDR72', 127, y - 7, y + 7);
    glyph(208, 240, y + 2 + leftDy[i][2], glyphColor[g]);
    two(a, b, 248, y - 7 + leftDy[i][0], y + 7 + leftDy[i][0]);
    txt('vs.', 294, y + 1, 17);
    const g2 = forestRight[i];
    const [c, d] = g2.split(' ');
    glyph(333, 365, y + 2 + rightDy[i][1], glyphColor[g2]);
    two(c, d, 372, y - 7 + rightDy[i][0], y + 7 + rightDy[i][0]);
});
</script>
</body>
</html>
